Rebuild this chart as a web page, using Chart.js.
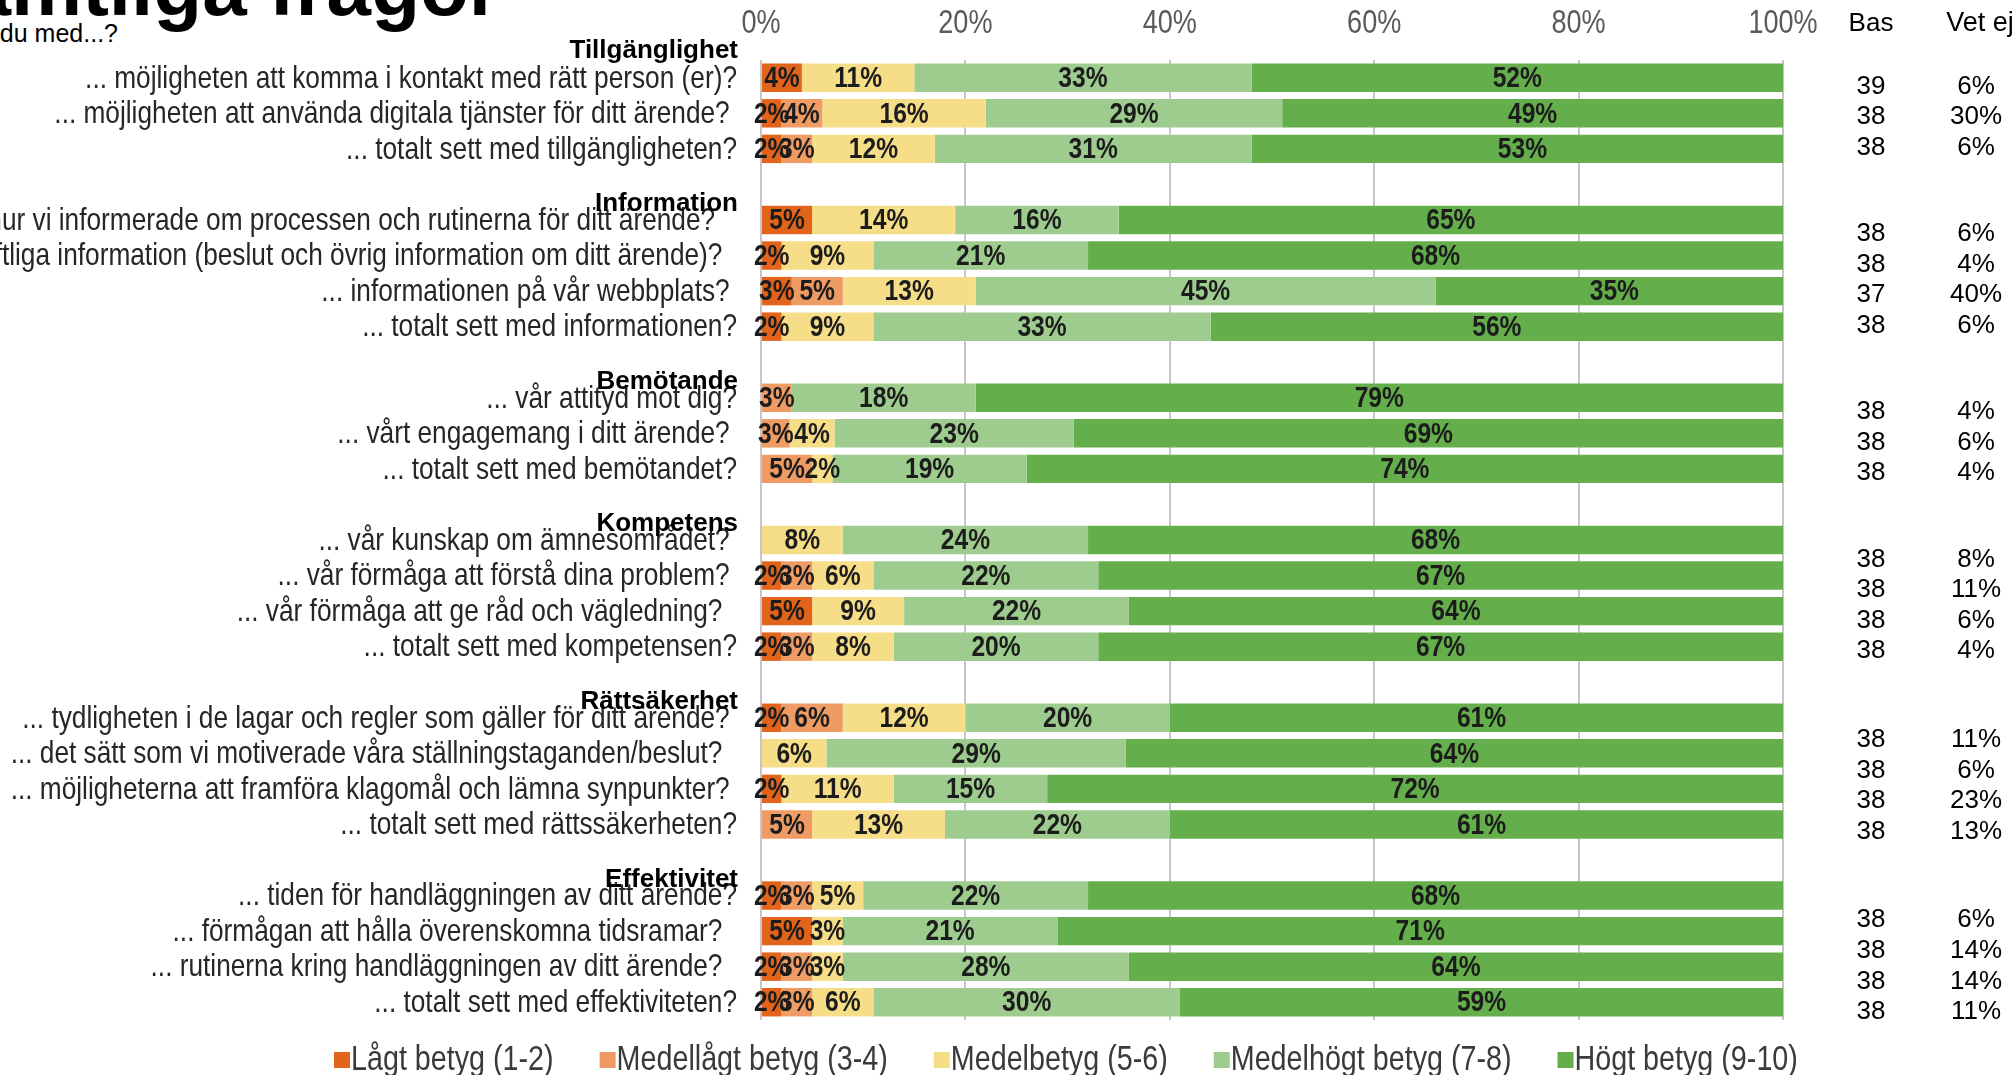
<!DOCTYPE html>
<html>
<head>
<meta charset="utf-8">
<title>Samtliga frågor</title>
<script src="https://cdn.jsdelivr.net/npm/chart.js"></script>
<style>
  html, body { margin:0; padding:0; background:#fff; }
  #wrap { position:relative; width:2015px; height:1075px; overflow:hidden; background:#fff; }
  #chart { position:absolute; left:0; top:0; }
  .title { position:absolute; right:calc(2015px - 500px); top:-52px; font:bold 80px "Liberation Sans", Arial, sans-serif; line-height:80px; color:#000; white-space:nowrap; }
  .sub { position:absolute; right:calc(2015px - 118px); top:19px; font:25px "Liberation Sans", Arial, sans-serif; color:#000; white-space:nowrap; }
</style>
</head>
<body>
<div id="wrap">
  <div class="title">Samtliga frågor</div>
  <div class="sub">Hur nöjd är du med...?</div>
  <canvas id="chart" width="2015" height="1075"></canvas>
</div>
<script>
// frågor (tom sträng = mellanrum mellan grupperna)
const questions = [
  "... möjligheten att komma i kontakt med rätt person (er)?",
  "... möjligheten att använda digitala tjänster för ditt ärende? ",
  "... totalt sett med tillgängligheten?",
  "",
  "... hur vi informerade om processen och rutinerna för ditt ärende?   ",
  "... den skriftliga information (beslut och övrig information om ditt ärende)?  ",
  "... informationen på vår webbplats? ",
  "... totalt sett med informationen?",
  "",
  "... vår attityd mot dig?",
  "... vårt engagemang i ditt ärende? ",
  "... totalt sett med bemötandet?",
  "",
  "... vår kunskap om ämnesområdet? ",
  "... vår förmåga att förstå dina problem? ",
  "... vår förmåga att ge råd och vägledning?  ",
  "... totalt sett med kompetensen?",
  "",
  "... tydligheten i de lagar och regler som gäller för ditt ärende? ",
  "... det sätt som vi motiverade våra ställningstaganden/beslut?  ",
  "... möjligheterna att framföra klagomål och lämna synpunkter? ",
  "... totalt sett med rättssäkerheten?",
  "",
  "... tiden för handläggningen av ditt ärende?",
  "... förmågan att hålla överenskomna tidsramar?  ",
  "... rutinerna kring handläggningen av ditt ärende?  ",
  "... totalt sett med effektiviteten?"
];

// gruppnamn och index för första frågan i varje grupp
const groups = ["Tillgänglighet", "Information", "Bemötande", "Kompetens", "Rättsäkerhet", "Effektivitet"];
const groupStart = [0, 4, 9, 13, 18, 23];
const groupSize = [3, 4, 3, 4, 4, 4];

// andelar i procent per betygsnivå (avläst bredd, etiketten visas avrundad)
const lagt      = [4, 2, 2, null, 5, 2, 3, 2, null, 0, 0, 0, null, 0, 2, 5, 2, null, 2, 0, 2, 0, null, 2, 5, 2, 2];
const medellagt = [0, 4, 3, null, 0, 0, 5, 0, null, 3, 2.8, 5, null, 0, 3, 0, 3, null, 6, 0, 0, 5, null, 3, 0, 3, 3];
const medel     = [11, 16, 12, null, 14, 9, 13, 9, null, 0, 4.4, 2, null, 8, 6, 9, 8, null, 12, 6.4, 11, 13, null, 5, 3, 3, 6];
const medelhogt = [33, 29, 31, null, 16, 21, 45, 33, null, 18, 23.4, 19, null, 24, 22, 22, 20, null, 20, 29.3, 15, 22, null, 22, 21, 28, 30];
const hogt      = [52, 49, 53, null, 65, 68, 35, 56, null, 79, 69.4, 74, null, 68, 67, 64, 67, null, 61, 64.3, 72, 61, null, 68, 71, 64, 59];

// bas och vet ej per fråga (i gruppordning)
const bas   = [39, 38, 38,  38, 38, 37, 38,  38, 38, 38,  38, 38, 38, 38,  38, 38, 38, 38,  38, 38, 38, 38];
const vetEj = ["6%", "30%", "6%",  "6%", "4%", "40%", "6%",  "4%", "6%", "4%",  "8%", "11%", "6%", "4%",  "11%", "6%", "23%", "13%",  "6%", "14%", "14%", "11%"];

const seriesNames = ["Lågt betyg (1-2)", "Medellågt betyg (3-4)", "Medelbetyg (5-6)", "Medelhögt betyg (7-8)", "Högt betyg (9-10)"];
const seriesColors = ["#E2641A", "#EE9B64", "#F6DE89", "#9ECC8E", "#64AF4C"];
const xTicks = [0, 20, 40, 60, 80, 100];

const ARIAL = '"Liberation Sans", Arial, sans-serif';
const SX = 0.82; // smal text (som Arial Narrow)

function narrow(ctx, text, x, y, align) {
  ctx.save();
  ctx.translate(x, y);
  ctx.scale(SX, 1);
  ctx.textAlign = align;
  ctx.fillText(text, 0, 0);
  ctx.restore();
}

// etiketter i staplarna
const barLabels = {
  id: "barLabels",
  afterDatasetsDraw(chart) {
    const ctx = chart.ctx;
    ctx.save();
    ctx.font = "bold 30px " + ARIAL;
    ctx.fillStyle = "#1c1c1c";
    ctx.textBaseline = "middle";
    chart.data.datasets.forEach((ds, di) => {
      chart.getDatasetMeta(di).data.forEach((el, i) => {
        const v = ds.data[i];
        if (!v) return;
        narrow(ctx, Math.round(v) + "%", (el.x + el.base) / 2, el.y + 1, "center");
      });
    });
    ctx.restore();
  }
};

// axeltexter, grupprubriker, Bas / Vet ej och legend
const sideText = {
  id: "sideText",
  afterDraw(chart) {
    const ctx = chart.ctx;
    const x = chart.scales.x;
    const y = chart.scales.y;
    const area = chart.chartArea;
    const pitch = y.getPixelForValue(1) - y.getPixelForValue(0);
    const xBas = area.right + 88;
    const xVet = area.right + 193;
    ctx.save();
    ctx.textBaseline = "middle";

    // x-axelns etiketter
    ctx.font = "33px " + ARIAL;
    ctx.fillStyle = "#5a5a5a";
    xTicks.forEach(v => narrow(ctx, v + "%", x.getPixelForValue(v), 24, "center"));

    // frågetexter
    ctx.font = "32px " + ARIAL;
    ctx.fillStyle = "#262626";
    questions.forEach((q, i) => {
      if (q) narrow(ctx, q, area.left - 24, y.getPixelForValue(i) + 1, "right");
    });

    // grupprubriker
    ctx.font = "bold 26px " + ARIAL;
    ctx.fillStyle = "#000";
    ctx.textAlign = "right";
    groups.forEach((g, gi) => {
      const off = gi === 0 ? 0.75 : 0.45;
      ctx.fillText(g, area.left - 23, y.getPixelForValue(groupStart[gi]) - pitch * off);
    });

    // Bas / Vet ej
    ctx.font = "26px " + ARIAL;
    ctx.textAlign = "center";
    ctx.fillText("Bas", xBas, 24);
    ctx.font = "27px " + ARIAL;
    ctx.fillText("Vet ej", xVet + 4, 24);
    ctx.font = "26px " + ARIAL;
    let k = 0;
    groups.forEach((g, gi) => {
      const n = groupSize[gi];
      const first = y.getPixelForValue(groupStart[gi]);
      const last = y.getPixelForValue(groupStart[gi] + n - 1);
      const mid = (first + last) / 2 + pitch * (0.11 + 0.075 * gi);
      for (let j = 0; j < n; j++) {
        const yy = mid + (j - (n - 1) / 2) * pitch * 0.86;
        ctx.fillText(String(bas[k]), xBas, yy);
        ctx.fillText(vetEj[k], xVet, yy);
        k++;
      }
    });

    // legend
    ctx.font = "35px " + ARIAL;
    let lx = 334;
    const ly = 1060;
    seriesNames.forEach((name, i) => {
      ctx.fillStyle = seriesColors[i];
      ctx.fillRect(lx, ly - 8, 16, 16);
      ctx.fillStyle = "#3a3a3a";
      narrow(ctx, name, lx + 17, ly, "left");
      lx += 17 + ctx.measureText(name).width * SX + 46;
    });
    ctx.restore();
  }
};

const datasets = [lagt, medellagt, medel, medelhogt, hogt].map((d, i) => ({
  label: seriesNames[i],
  data: d,
  backgroundColor: seriesColors[i],
  borderWidth: 0,
  barPercentage: 0.8,
  categoryPercentage: 1
}));

new Chart(document.getElementById("chart"), {
  type: "bar",
  data: { labels: questions, datasets: datasets },
  options: {
    indexAxis: "y",
    responsive: false,
    animation: false,
    layout: { padding: { left: 0, right: 232, top: 0, bottom: 55 } },
    plugins: { legend: { display: false }, tooltip: { enabled: false } },
    scales: {
      x: {
        position: "top",
        stacked: true,
        min: 0,
        max: 100,
        afterBuildTicks: (s) => { s.ticks = xTicks.map(v => ({ value: v })); },
        afterFit: (s) => { s.height = 60; },
        ticks: { display: false },
        grid: { color: "#c6c6c6", lineWidth: 2, drawTicks: false },
        border: { display: false }
      },
      y: {
        stacked: true,
        afterFit: (s) => { s.width = 761; },
        ticks: { display: false },
        grid: { display: false, drawTicks: false },
        border: { display: false }
      }
    }
  },
  plugins: [barLabels, sideText]
});
</script>
</body>
</html>
